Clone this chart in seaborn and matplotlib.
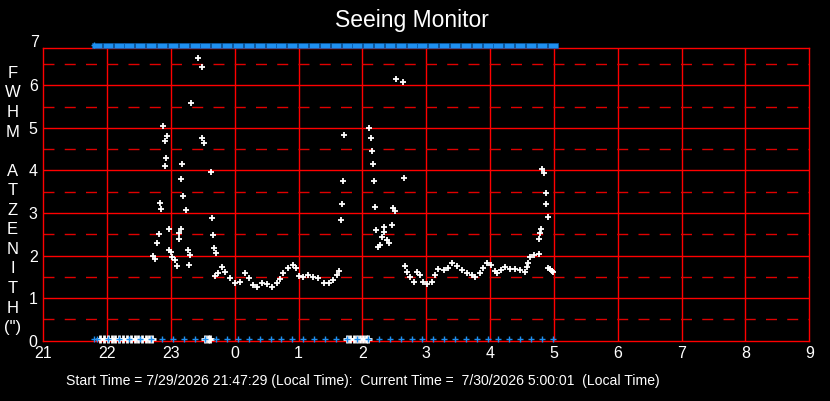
import matplotlib
matplotlib.use("Agg")
import matplotlib.pyplot as plt
import numpy as np
import pandas as pd
import seaborn as sns
from matplotlib.path import Path
from matplotlib.transforms import offset_copy

# ---------------- data ----------------
# hours after midnight are written as 24+h so the axis runs 21 -> 33 (= 9)
white_hours = [
    22.72, 22.75, 22.78, 22.81, 22.83, 22.84, 22.88, 22.90, 22.91, 22.93, 22.94,
    22.97, 22.97, 23.00, 23.02, 23.06, 23.09, 23.12, 23.13, 23.15, 23.16, 23.18,
    23.19, 23.24, 23.26, 23.28, 23.30, 23.31, 23.43, 23.48, 23.49, 23.51, 23.63,
    23.65, 23.66, 23.68, 23.70,
    # first calm stretch
    23.69, 23.74, 23.80, 23.85, 23.93, 24.00, 24.08, 24.16, 24.23, 24.29, 24.34,
    24.42, 24.50, 24.58, 24.66, 24.71, 24.76, 24.84, 24.91, 24.96, 25.01, 25.07,
    25.15, 25.23, 25.31, 25.39, 25.47, 25.54, 25.60, 25.64,
    # second burst
    25.66, 25.68, 25.70, 25.71, 26.11, 26.13, 26.15, 26.16, 26.18, 26.20, 26.21,
    26.24, 26.28, 26.30, 26.33, 26.33, 26.38, 26.42, 26.46, 26.48, 26.51, 26.53,
    26.63, 26.65,
    # second calm stretch
    26.66, 26.69, 26.75, 26.80, 26.85, 26.90, 26.95, 27.01, 27.09, 27.14, 27.19,
    27.27, 27.34, 27.40, 27.48, 27.56, 27.63, 27.71, 27.76, 27.84, 27.89, 27.95,
    28.01, 28.07, 28.10, 28.17, 28.23, 28.31, 28.39, 28.47, 28.55, 28.57, 28.60,
    28.63, 28.69, 28.76, 28.77, 28.78, 28.79, 28.82, 28.84, 28.87, 28.88, 28.90,
    28.91, 28.94, 28.97, 28.99,
]
white_fwhm = [
    2.00, 1.92, 2.30, 2.50, 3.23, 3.09, 5.04, 4.68, 4.10, 4.30, 4.80,
    2.62, 2.13, 2.09, 1.97, 1.90, 1.76, 2.39, 2.52, 2.62, 3.80, 4.15,
    3.40, 3.07, 2.13, 1.77, 2.02, 5.58, 6.65, 4.75, 6.42, 4.64, 3.97,
    2.88, 2.48, 2.18, 2.07,
    1.52, 1.58, 1.74, 1.62, 1.47, 1.35, 1.39, 1.58, 1.47, 1.31, 1.27,
    1.35, 1.33, 1.27, 1.35, 1.44, 1.58, 1.70, 1.78, 1.70, 1.52, 1.50,
    1.54, 1.50, 1.47, 1.36, 1.35, 1.43, 1.54, 1.64,
    2.83, 3.20, 3.75, 4.83, 5.00, 4.76, 4.46, 4.15, 3.75, 3.15, 2.60,
    2.19, 2.25, 2.44, 2.68, 2.56, 2.37, 2.29, 2.72, 3.12, 3.05, 6.15,
    6.07, 3.83,
    1.76, 1.62, 1.49, 1.39, 1.62, 1.54, 1.39, 1.33, 1.39, 1.54, 1.68,
    1.66, 1.70, 1.82, 1.76, 1.66, 1.60, 1.54, 1.49, 1.58, 1.70, 1.82,
    1.78, 1.64, 1.58, 1.66, 1.74, 1.68, 1.68, 1.66, 1.62, 1.74, 1.83,
    1.97, 2.01, 2.04, 2.38, 2.52, 2.62, 4.03, 3.95, 3.48, 3.20, 2.90,
    1.70, 1.68, 1.64, 1.62,
]
# failed readings, drawn on the zero line
zero_hours = [
    21.89, 21.95, 22.01, 22.07, 22.13, 22.19, 22.25, 22.31, 22.37, 22.43,
    22.49, 22.55, 22.61, 22.66, 22.70,
    23.54, 23.58, 23.61,
    25.76, 25.81, 25.86, 25.91, 25.96, 26.01, 26.05, 26.09,
]
# observation timestamps (blue markers)
sample_hours = [
    21.79, 21.84, 22.01, 22.18, 22.35, 22.52, 22.69, 22.86, 23.03, 23.20,
    23.37, 23.54, 23.71, 23.88, 24.05, 24.22, 24.39, 24.56, 24.73, 24.90,
    25.07, 25.24, 25.41, 25.58, 25.75, 25.92, 26.09, 26.26, 26.43, 26.60,
    26.77, 26.94, 27.11, 27.28, 27.45, 27.62, 27.79, 27.96, 28.13, 28.30,
    28.47, 28.64, 28.81, 28.98,
]
x_ticks = list(range(21, 34))
x_tick_labels = [str(h % 24) for h in x_ticks]
y_ticks = list(range(0, 7))
y_major_grid = [1, 2, 3, 4, 5, 6]
y_minor_grid = [0.5, 1.5, 2.5, 3.5, 4.5, 5.5, 6.5]
x_grid = list(range(22, 33))
y_top_label = 7

title = "Seeing Monitor"
ylabel = "F\nW\nH\nM\n\nA\nT\nZ\nE\nN\nI\nT\nH\n(\")"
footer = ("Start Time = 7/29/2026 21:47:29 (Local Time):  "
          "Current Time =  7/30/2026 5:00:01  (Local Time)")

# ---------------- style ----------------
sns.set_style("dark")
plt.rcParams['font.family'] = ['Liberation Sans', 'DejaVu Sans']

W, H = 830, 401
fig = plt.figure(figsize=(W / 100, H / 100), dpi=100, facecolor='black')
x0, x1, yb, yt = 43.3, 809.3, 340.7, 48.0
ax = fig.add_axes([x0 / W, 1 - yb / H, (x1 - x0) / W, (yb - yt) / H])
ax.set_facecolor('black')

RED = '#ff0000'
BLUE = '#1e8ff0'

# grid
for xv in x_grid:
    ax.axvline(xv, color=RED, lw=1.0, zorder=1)
for yv in y_major_grid:
    ax.axhline(yv, color=RED, lw=1.0, zorder=1)
for yv in y_minor_grid:
    ax.axhline(yv, color='#e00000', lw=1.0, ls=(0, (7.9, 7.4)), zorder=1)

# white zero markers (failed readings) slightly raised off the axis
up2 = offset_copy(ax.transData, fig=fig, x=0, y=2, units='dots')
sns.scatterplot(x=zero_hours, y=[0.0] * len(zero_hours), marker='+', s=26,
                linewidth=2.0, color='white', ax=ax, transform=up2,
                clip_on=False, zorder=4)
# blue timestamp markers at zero
sns.scatterplot(x=sample_hours, y=[0.0] * len(sample_hours), marker='+', s=14,
                linewidth=1.0, color=BLUE, ax=ax, transform=up2,
                clip_on=False, zorder=5)
# blue band at the top
band = Path([(-1, -1), (1, -1), (1, 0), (-1, 0), (-1, -1)],
            [Path.MOVETO, Path.LINETO, Path.LINETO, Path.LINETO, Path.CLOSEPOLY])
sns.scatterplot(x=sample_hours[1:], y=[y_top_label] * (len(sample_hours) - 1),
                marker=band, s=58, color=BLUE, edgecolor='#0b5aa8',
                linewidth=0.5, ax=ax, clip_on=False, zorder=5)
sns.scatterplot(x=sample_hours[:1], y=[y_top_label - 0.06], marker='+', s=14,
                linewidth=1.0, color=BLUE, ax=ax, clip_on=False, zorder=5)

# FWHM readings
df = pd.DataFrame({'hour': white_hours, 'fwhm': white_fwhm})
sns.scatterplot(data=df, x='hour', y='fwhm', marker='+', s=25, linewidth=1.3,
                color='white', ax=ax, zorder=6)

ax.set_xlim(21, 33)
ax.set_ylim(0, 6.875)
ax.set_xlabel('')
ax.set_ylabel('')
ax.grid(False)
for sp in ax.spines.values():
    sp.set_color(RED)
    sp.set_linewidth(1.0)
    sp.set_visible(True)
    sp.set_zorder(2)

ax.set_xticks(x_ticks)
ax.set_xticklabels(x_tick_labels)
ax.set_yticks(y_ticks)
ax.set_yticklabels([str(v) for v in y_ticks])
ax.tick_params(axis='both', colors='white', length=0, labelsize=11.5)
ax.tick_params(axis='x', pad=4)
ax.tick_params(axis='y', pad=4)
ax.text(-4 / (x1 - x0), y_top_label, str(y_top_label),
        transform=ax.get_yaxis_transform(), ha='right', va='center',
        color='white', fontsize=11.5, clip_on=False)

fig.text(412 / W, 1 - 21 / H, title, ha='center', va='center',
         fontsize=16.5, color='white')
fig.text(12.5 / W, 1 - 200.5 / H, ylabel, ha='center', va='center',
         multialignment='center', linespacing=1.38, fontsize=12, color='white')
fig.text(66 / W, 1 - 381 / H, footer, ha='left', va='center',
         fontsize=10.1, color='white')

fig.savefig('out.png', dpi=100, facecolor='black')
